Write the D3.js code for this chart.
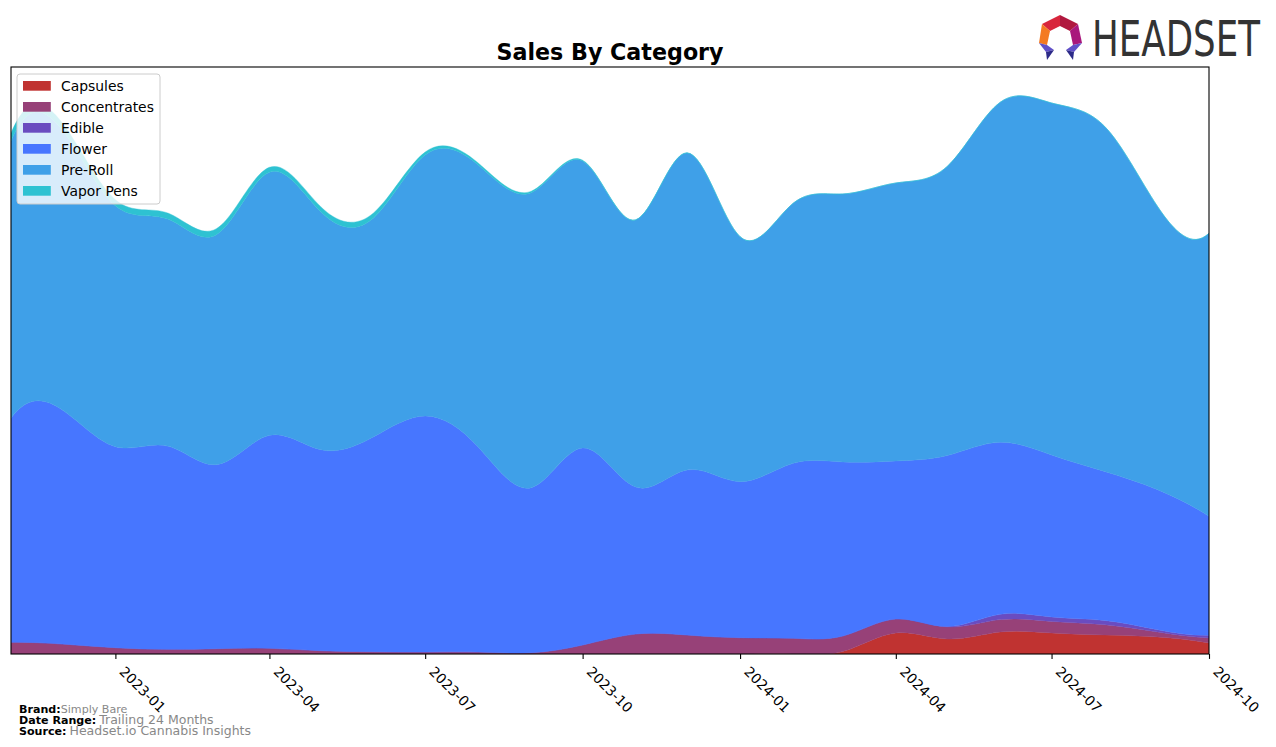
<!DOCTYPE html>
<html><head><meta charset="utf-8">
<script src="https://cdn.jsdelivr.net/npm/d3@7"></script>
<style>body{margin:0;background:#fff} svg{display:block;font-family:"DejaVu Sans",sans-serif}</style>
</head><body>
<svg id="chart" width="1276" height="747"></svg>
<script>
// ---------- data ----------
const months = ["2022-11-01","2022-12-01","2023-01-01","2023-02-01","2023-03-01","2023-04-01","2023-05-01","2023-06-01","2023-07-01","2023-08-01","2023-09-01","2023-10-01","2023-11-01","2023-12-01","2024-01-01","2024-02-01","2024-03-01","2024-04-01","2024-05-01","2024-06-01","2024-07-01","2024-08-01","2024-09-01","2024-10-01"];
const categories = ["Capsules","Concentrates","Edible","Flower","Pre-Roll","Vapor Pens"];
const capsules     = [0,0,0,0,0,0,0,0,0,0,0,0,0,0,0,0,0.25,2.1,1.5,2.2,2.1,1.9,1.7,1.1];
const concentrates = [1.17,1.0,0.63,0.47,0.53,0.57,0.33,0.23,0.2,0.2,0.13,0.9,2.0,1.9,1.63,1.57,1.55,1.4,1.2,1.24,1.16,1.03,0.5,0.5];
const edible       = [0,0,0,0,0,0,0,0,0,0,0,0,0,0,0,0,0,0,0.05,0.53,0.44,0.43,0.23,0.27];
const flower       = [22.4,23.4,20.1,20.3,18.4,21.3,20.1,21.5,23.6,20.5,16.5,19.7,14.7,16.5,15.6,17.5,17.4,15.8,17.1,17.2,16.2,14.9,14.0,11.9];
const preRoll      = [27.7,28.0,24.1,22.7,23.0,26.3,23.8,21.9,26.1,28.2,29.5,28.7,26.7,31.7,24.5,26.0,26.8,27.8,28.9,34.0,35.2,34.5,28.3,28.3];
const vaporPens    = [0.8,0.7,0.6,0.6,0.6,0.5,0.5,0.5,0.3,0.2,0.15,0.08,0.03,0.03,0,0,0,0,0,0,0,0,0,0];
const tickLabels   = ["2023-01","2023-04","2023-07","2023-10","2024-01","2024-04","2024-07","2024-10"];
const yMax = 58.7;
const colors = ["#c03331","#974178","#6a4cc0","#4776ff","#3fa0e8","#2ec2d2"];

// ---------- not-a-knot cubic spline curve ----------
function splineM(x, y) {
  const n = x.length, h = [];
  for (let i = 0; i < n - 1; i++) h[i] = x[i + 1] - x[i];
  const A = [], b = [];
  for (let i = 0; i < n; i++) { A.push(new Array(n).fill(0)); b.push(0); }
  A[0][0] = h[1]; A[0][1] = -(h[0] + h[1]); A[0][2] = h[0];
  for (let i = 1; i < n - 1; i++) {
    A[i][i - 1] = h[i - 1]; A[i][i] = 2 * (h[i - 1] + h[i]); A[i][i + 1] = h[i];
    b[i] = 6 * ((y[i + 1] - y[i]) / h[i] - (y[i] - y[i - 1]) / h[i - 1]);
  }
  A[n - 1][n - 3] = h[n - 2]; A[n - 1][n - 2] = -(h[n - 3] + h[n - 2]); A[n - 1][n - 1] = h[n - 3];
  for (let c = 0; c < n; c++) {
    let p = c;
    for (let r = c + 1; r < n; r++) if (Math.abs(A[r][c]) > Math.abs(A[p][c])) p = r;
    [A[c], A[p]] = [A[p], A[c]]; [b[c], b[p]] = [b[p], b[c]];
    for (let r = c + 1; r < n; r++) {
      const f = A[r][c] / A[c][c];
      if (!f) continue;
      for (let k = c; k < n; k++) A[r][k] -= f * A[c][k];
      b[r] -= f * b[c];
    }
  }
  const M = new Array(n).fill(0);
  for (let r = n - 1; r >= 0; r--) {
    let s = b[r];
    for (let k = r + 1; k < n; k++) s -= A[r][k] * M[k];
    M[r] = s / A[r][r];
  }
  return M;
}
function NotAKnot(context) { this._context = context; }
NotAKnot.prototype = {
  areaStart() { this._line = 0; },
  areaEnd() { this._line = NaN; },
  lineStart() { this._x = []; this._y = []; },
  point(x, y) { this._x.push(+x); this._y.push(+y); },
  lineEnd() {
    const x = this._x, y = this._y, n = x.length, c = this._context;
    if (n) {
      this._line ? c.lineTo(x[0], y[0]) : c.moveTo(x[0], y[0]);
      if (n < 4) { for (let i = 1; i < n; i++) c.lineTo(x[i], y[i]); }
      else {
        const M = splineM(x, y);
        for (let i = 0; i < n - 1; i++) {
          const hh = x[i + 1] - x[i], d = (y[i + 1] - y[i]) / hh;
          const s0 = d - hh * (2 * M[i] + M[i + 1]) / 6;
          const s1 = d + hh * (M[i] + 2 * M[i + 1]) / 6;
          c.bezierCurveTo(x[i] + hh / 3, y[i] + s0 * hh / 3, x[i + 1] - hh / 3, y[i + 1] - s1 * hh / 3, x[i + 1], y[i + 1]);
        }
      }
    }
    if (this._line || (this._line !== 0 && n === 1)) c.closePath();
    this._line = 1 - this._line;
    this._x = this._y = null;
  }
};
const curveNotAKnot = ctx => new NotAKnot(ctx);

// ---------- layout ----------
const svg = d3.select("#chart");
const L = 11, R = 1209, T = 67, B = 654;
const parse = d3.utcParse("%Y-%m-%d");
const series = [capsules, concentrates, edible, flower, preRoll, vaporPens];
const rows = months.map((m, i) => {
  const o = { date: parse(m) };
  categories.forEach((c, k) => o[c] = series[k][i]);
  return o;
});
const x = d3.scaleUtc().domain(d3.extent(rows, d => d.date)).range([L, R]);
const y = d3.scaleLinear().domain([0, yMax]).range([B, T]);
const stacked = d3.stack().keys(categories)(rows);

svg.append("defs").append("clipPath").attr("id", "clip")
  .append("rect").attr("x", L).attr("y", T).attr("width", R - L).attr("height", B - T);

const area = d3.area().x(d => x(d.data.date)).y0(d => y(d[0])).y1(d => y(d[1])).curve(curveNotAKnot);
svg.append("g").attr("clip-path", "url(#clip)").selectAll("path").data(stacked).join("path")
  .attr("d", area).attr("fill", (d, i) => colors[i])
  .attr("stroke", (d, i) => colors[i]).attr("stroke-width", 0.4);

// axis
const tickDates = tickLabels.map(t => parse(t + "-01"));
const ax = svg.append("g").attr("transform", `translate(0,${B})`)
  .call(d3.axisBottom(x).tickValues(tickDates).tickFormat((d, i) => tickLabels[i]).tickSize(4.9).tickSizeOuter(0));
ax.select(".domain").remove();
ax.selectAll(".tick line").attr("stroke", "#000").attr("stroke-width", 1.1);
ax.selectAll(".tick text")
  .attr("font-family", "DejaVu Sans").attr("font-size", 13.9).attr("fill", "#000")
  .attr("text-anchor", "start").attr("dy", null).attr("y", null)
  .attr("transform", "translate(2.7,18.4) rotate(45)");

// frame
svg.append("rect").attr("x", L).attr("y", T).attr("width", R - L).attr("height", B - T)
  .attr("fill", "none").attr("stroke", "#000").attr("stroke-width", 1.1);

// title
svg.append("text").attr("x", (L + R) / 2).attr("y", 59.5).attr("text-anchor", "middle")
  .attr("font-family", "DejaVu Sans").attr("font-weight", "bold").attr("font-size", 22.2)
  .text("Sales By Category");

// legend
const lg = svg.append("g");
lg.append("rect").attr("x", 17).attr("y", 74).attr("width", 143).attr("height", 130).attr("rx", 3)
  .attr("fill", "#fff").attr("fill-opacity", 0.8).attr("stroke", "#cccccc").attr("stroke-width", 1);
categories.forEach((c, i) => {
  const cy = 86 + i * 21;
  lg.append("rect").attr("x", 23).attr("y", cy - 5).attr("width", 27.8).attr("height", 9.7).attr("fill", colors[i]);
  lg.append("text").attr("x", 61).attr("y", cy + 5).attr("font-family", "DejaVu Sans").attr("font-size", 13.9)
    .attr("fill", "#000").text(c);
});

// footer
const foot = [["Brand:", "Simply Bare", 11.1, 713], ["Date Range:", "Trailing 24 Months", 12.5, 724], ["Source:", "Headset.io Cannabis Insights", 12.5, 735]];
foot.forEach(([k, v, fs, yy]) => {
  const t = svg.append("text").attr("x", 19).attr("y", yy).attr("font-family", "DejaVu Sans");
  t.append("tspan").attr("font-weight", "bold").attr("font-size", 11.1).attr("fill", "#000").text(k);
  t.append("tspan").attr("font-size", fs).attr("fill", "#888").attr("dx", k === "Brand:" ? 0 : 3).text(v);
});

// logo
const logo = svg.append("g");
const polys = [
  ["#d8263c", [[1060,15],[1042,24],[1050,31],[1060,26]]],
  ["#b0183f", [[1060,15],[1078,24],[1070,31],[1060,26]]],
  ["#f47a22", [[1042,24],[1039,43],[1047,45],[1050,31]]],
  ["#a9177c", [[1078,24],[1082,43],[1073,45],[1070,31]]],
  ["#6050c8", [[1039,43],[1047,45],[1054,50],[1046,52]]],
  ["#2c2a88", [[1046,52],[1054,50],[1047,60]]],
  ["#6050c8", [[1082,43],[1073,45],[1066,50],[1074,52]]],
  ["#2c2a88", [[1074,52],[1066,50],[1073,60]]]
];
polys.forEach(([c, p]) => logo.append("polygon").attr("points", p.map(q => q.join(",")).join(" ")).attr("fill", c));
const brandText = logo.append("text")
  .attr("font-family", "'Liberation Sans Narrow','DejaVu Sans Condensed',sans-serif")
  .attr("font-size", 49).attr("fill", "#333").text("HEADSET");
const natural = brandText.node().getComputedTextLength() || 190;
brandText.attr("transform", `translate(1092,56) scale(${168 / natural},1)`);
</script>
</body></html>
